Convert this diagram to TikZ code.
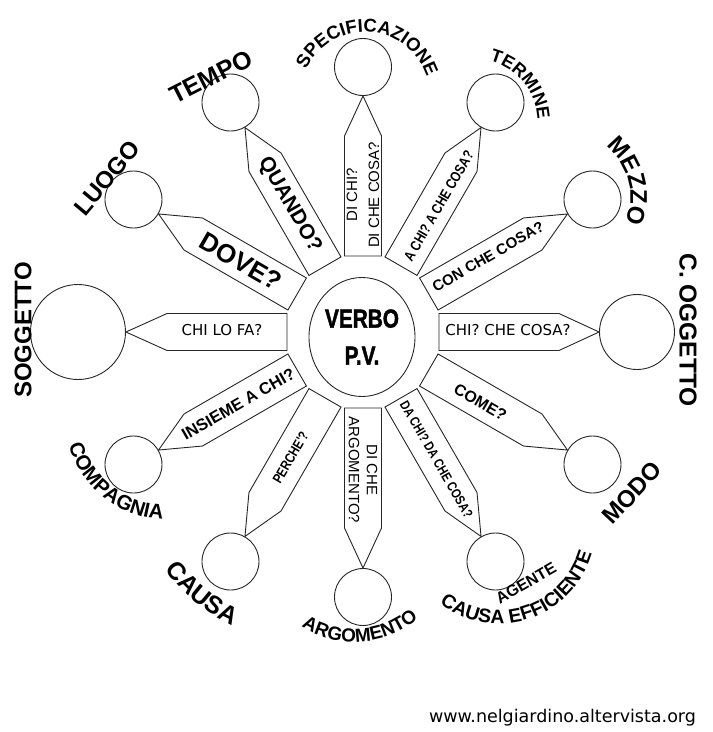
\documentclass[tikz,border=0pt]{standalone}
\usepackage{fontspec}
\setmainfont{Liberation Sans}
\newfontfamily\versfont{DejaVu Sans}
\newfontfamily\condfont{Liberation Sans}[FakeStretch=0.82]
\newfontfamily\heavyfont{Liberation Sans}[FakeStretch=0.8, BoldFeatures={FakeBold=1.6}]
\usetikzlibrary{shapes.geometric, decorations.text}
\newcommand\fsz[1]{\fontsize{#1}{#1}\selectfont}
\tikzset{
  hub/.style    ={ellipse, draw=black!85, line width=0.9pt, minimum width=106pt, minimum height=119pt,
                  inner sep=0pt, align=center, font=\heavyfont\bfseries\fontsize{26}{37}\selectfont},
  ring/.style   ={circle, draw=black!85, line width=0.9pt, minimum size=57pt, inner sep=0pt},
  tag/.style    ={draw=black!85, line width=0.9pt, fill=white, line join=miter},
  ask/.style    ={align=center, inner sep=0pt, font=\fsz{15}},
  askb/.style   ={ask, font=\bfseries\fsz{#1}},
  askn/.style   ={ask, font=\condfont\bfseries\fsz{#1}},
  askv/.style   ={ask, font=\versfont\fsz{15}},
  lbl/.style    ={inner sep=0pt, font=\bfseries\fsz{#1}},
  arclbl/.style ={decorate, decoration={text along path, text align=center, text={#1}}},
}
\begin{document}
\begin{tikzpicture}[x=1pt, y=1pt]
  \useasboundingbox (-363,-400) rectangle (350,332);
  % centre and circles
  \node[hub] (verbo) at (-1,-5) {VERBO\\P.V.};
  \node[ring] (spec) at (90:265) {};
  \node[ring] (termine) at (60:265) {};
  \node[ring] (mezzo) at (30:265) {};
  \node[ring, minimum size=75pt] (cogg) at (0:274) {};
  \node[ring] (modo) at (-30:265) {};
  \node[ring] (agente) at (-60:265) {};
  \node[ring] (argom) at (-90:265) {};
  \node[ring] (causa) at (-120:265) {};
  \node[ring] (compagnia) at (-150:265) {};
  \node[ring, minimum size=95pt] (sogg) at (180:285) {};
  \node[ring] (luogo) at (150:265) {};
  \node[ring] (tempo) at (120:265) {};
  % question tags
  \draw[tag, rotate=90] (76,-18.5) -- (196,-18.5) -- (spec.270) -- (196,18.5) -- (76,18.5) -- cycle;
  \draw[tag, rotate=60] (76,-18.5) -- (196,-18.5) -- (termine.240) -- (196,18.5) -- (76,18.5) -- cycle;
  \draw[tag, rotate=30] (76,-18.5) -- (196,-18.5) -- (mezzo.210) -- (196,18.5) -- (76,18.5) -- cycle;
  \draw[tag] (76,-18.5) -- (196,-18.5) -- (cogg.180) -- (196,18.5) -- (76,18.5) -- cycle;
  \draw[tag, rotate=-30] (76,-18.5) -- (196,-18.5) -- (modo.150) -- (196,18.5) -- (76,18.5) -- cycle;
  \draw[tag, rotate=-60] (76,-18.5) -- (196,-18.5) -- (agente.120) -- (196,18.5) -- (76,18.5) -- cycle;
  \draw[tag, rotate=-90] (76,-18.5) -- (196,-18.5) -- (argom.90) -- (196,18.5) -- (76,18.5) -- cycle;
  \draw[tag, rotate=-120] (76,-18.5) -- (196,-18.5) -- (causa.60) -- (196,18.5) -- (76,18.5) -- cycle;
  \draw[tag, rotate=-150] (76,-18.5) -- (196,-18.5) -- (compagnia.30) -- (196,18.5) -- (76,18.5) -- cycle;
  \draw[tag, rotate=180] (76,-18.5) -- (196,-18.5) -- (sogg.0) -- (196,18.5) -- (76,18.5) -- cycle;
  \draw[tag, rotate=150] (76,-18.5) -- (196,-18.5) -- (luogo.330) -- (196,18.5) -- (76,18.5) -- cycle;
  \draw[tag, rotate=120] (76,-18.5) -- (196,-18.5) -- (tempo.300) -- (196,18.5) -- (76,18.5) -- cycle;
  \node[ask, rotate=90, font=\fontsize{15}{22}\selectfont] (q-spec) at (90:137) {DI CHI?\\DI CHE COSA?};
  \node[askn=14.5, rotate=60] (q-termine) at (59:147) {A CHI? A CHE COSA?};
  \node[askb=15, rotate=30] (q-mezzo) at (31:146) {CON CHE COSA?};
  \node[askv] (q-cogg) at (145,2) {CHI? CHE COSA?};
  \node[askb=16, rotate=-30] (q-modo) at (-31:137) {COME?};
  \node[askn=13.5, rotate=-60] (q-agente) at (-60:147) {DA CHI? DA CHE COSA?};
  \node[ask, rotate=-90, font=\fontsize{15}{18}\selectfont] (q-argom) at (-90:138) {DI CHE\\ARGOMENTO?};
  \node[askn=14, rotate=60] (q-causa) at (-120:145) {PERCHE'?};
  \node[askb=16.5, rotate=30] (q-compagnia) at (-150:144) {INSIEME A CHI?};
  \node[askv] (q-sogg) at (-141,2) {CHI LO FA?};
  \node[askb=26, rotate=-30] (q-luogo) at (150:141) {DOVE?};
  \node[askb=21, rotate=-60] (q-tempo) at (120:147) {QUANDO?};
  % labels
  \node[lbl=24, rotate=90] (l-sogg) at (-340,2) {SOGGETTO};
  \node[lbl=24.5, rotate=-90] (l-cogg) at (325,2) {C. OGGETTO};
  \node[lbl=24, rotate=50] (l-luogo) at (-256,154) {LUOGO};
  \node[lbl=25, rotate=27] (l-tempo) at (-152,255) {TEMPO};
  \node[lbl=24, rotate=47] (l-modo) at (269,-161) {MODO};
  \node[lbl=16, rotate=30] (l-agente) at (163,-251) {AGENTE};
  \coordinate (spec-arc) at (2,235);
  \coordinate (termine-arc) at (112,210);
  \coordinate (mezzo-arc) at (203,135);
  \coordinate (argom-arc) at (-8.5,-212);
  \coordinate (compagnia-arc) at (-195.5,-84.5);
  \coordinate (eff-arc) at (136,-195);
  \coordinate (causa-arc) at (-59,-139);
  \path[arclbl={|\bfseries\fsz{18.5}|SPECIFICAZIONE}] (spec-arc) ++(171.6:65) arc[start angle=171.6, end angle=1.6, radius=65pt];
  \path[arclbl={|\bfseries\fsz{18}|TERMINE}] (termine-arc) ++(99.5:62.5) arc[start angle=99.5, end angle=-20.5, radius=62.5pt];
  \path[arclbl={|\bfseries\fsz{24}|MEZZO}] (mezzo-arc) ++(69.5:64.5) arc[start angle=69.5, end angle=-40.5, radius=64.5pt];
  \path[arclbl={|\bfseries\fsz{19}|ARGOMENTO}] (argom-arc) ++(-141:98) arc[start angle=-141, end angle=-31, radius=98pt];
  \path[arclbl={|\bfseries\fsz{20.5}|COMPAGNIA}] (compagnia-arc) ++(-178:103) arc[start angle=-178, end angle=-78, radius=103pt];
  \path[arclbl={|\bfseries\fsz{19.5}|CAUSA EFFICIENTE}] (eff-arc) ++(-147:96.5) arc[start angle=-147, end angle=3, radius=96.5pt];
  \path[arclbl={|\bfseries\fsz{25}|CAUSA}] (causa-arc) ++(-160:170) arc[start angle=-160, end angle=-99.6, radius=170pt];
  \node[font=\versfont\fsz{17.5}, inner sep=0pt] (web) at (199.5,-386) {www.nelgiardino.altervista.org};
\end{tikzpicture}
\end{document}
